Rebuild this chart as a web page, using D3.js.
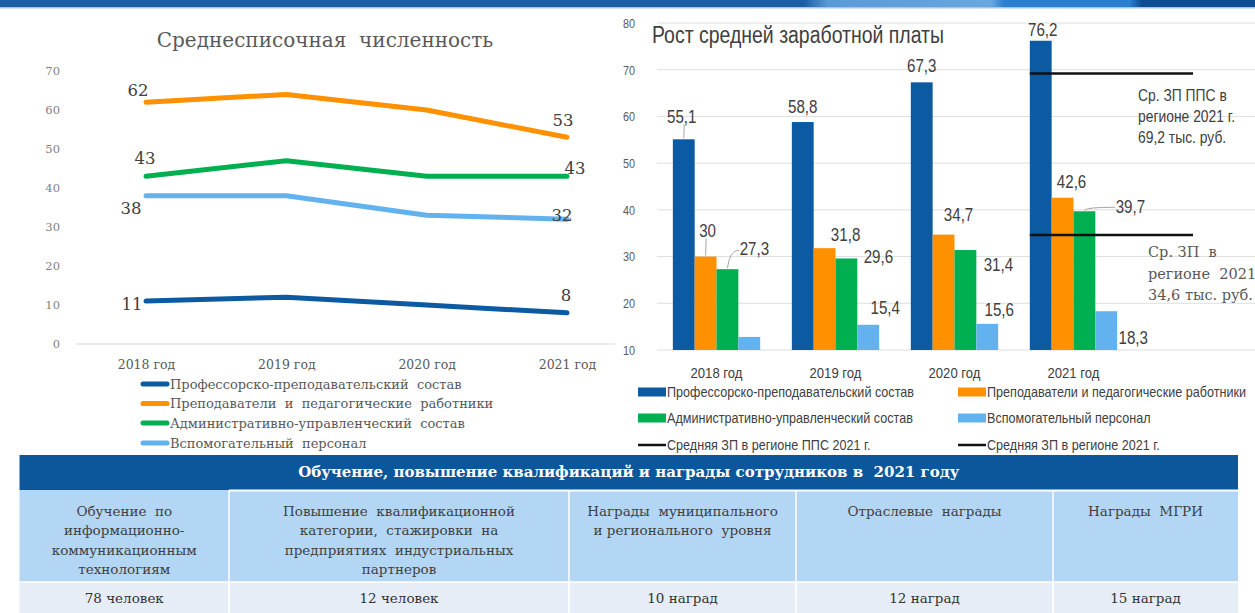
<!DOCTYPE html>
<html>
<head>
<meta charset="utf-8">
<script src="https://cdn.jsdelivr.net/npm/d3@7"></script>
<style>
  body { margin: 0; background: #fff; }
  svg { display: block; }
  text { white-space: pre; }
</style>
</head>
<body>
<div id="viz"></div>
<script>
// ---- data ----
const years = ["2018 год", "2019 год", "2020 год", "2021 год"];

// left chart: headcount
const staffTitle = "Среднесписочная  численность";
const staffNames = ["Профессорско-преподавательский  состав", "Преподаватели  и  педагогические  работники",
                    "Административно-управленческий  состав", "Вспомогательный  персонал"];
const staffPPS = [11, 12, 10, 8];
const staffTeachers = [62, 64, 60, 53];
const staffAdmin = [43, 47, 43, 43];
const staffSupport = [38, 38, 33, 32];
const staffTicks = [0, 10, 20, 30, 40, 50, 60, 70];

// right chart: salary growth, thousand rub.
const salaryTitle = "Рост средней заработной платы";
const salaryNames = ["Профессорско-преподавательский состав", "Преподаватели и педагогические работники",
                     "Административно-управленческий состав", "Вспомогательный персонал"];
const salaryPPS = [55.1, 58.8, 67.3, 76.2];
const salaryTeachers = [30, 31.8, 34.7, 42.6];
const salaryAdmin = [27.3, 29.6, 31.4, 39.7];
const salarySupport = [12.8, 15.4, 15.6, 18.3];
const salaryTicks = [10, 20, 30, 40, 50, 60, 70, 80];
const regionPPS = 69.2;
const regionAll = 34.6;
const regionNames = ["Средняя ЗП в регионе ППС 2021 г.", "Средняя ЗП в регионе 2021 г."];
const regionNotePPS = ["Ср. ЗП ППС в", "регионе 2021 г.", "69,2 тыс. руб."];
const regionNoteAll = ["Ср. ЗП  в", "регионе  2021 г.", "34,6 тыс. руб."];

// table
const tableTitle = "Обучение, повышение квалификаций и награды сотрудников в  2021 году";
const tableHeads = [
  ["Обучение  по", "информационно-", "коммуникационным", "технологиям"],
  ["Повышение  квалификационной", "категории,  стажировки  на", "предприятиях  индустриальных", "партнеров"],
  ["Награды  муниципального", "и регионального  уровня"],
  ["Отраслевые  награды"],
  ["Награды  МГРИ"]
];
const tableValues = ["78 человек", "12 человек", "10 наград", "12 наград", "15 наград"];

// ---- setup ----
const W = 1255, H = 613;
const serif = "'DejaVu Serif', serif";
const sans = "'Liberation Sans', Arial, sans-serif";
const seriesColors = ["#0b5aa2", "#ff9000", "#00b050", "#62b2ef"];

// no condensed font installed: squeeze glyphs horizontally instead
function squeeze(sel, k) {
  sel.each(function() {
    let w = this.getComputedTextLength();
    d3.select(this).attr("textLength", w * k).attr("lengthAdjust", "spacingAndGlyphs");
  });
}
function fitFirst(sel, target) {
  let k = target / sel.node().getComputedTextLength();
  squeeze(sel, k);
}

let svg = d3.select("#viz").append("svg")
    .attr("width", W)
    .attr("height", H);

// top stripe
let grad = svg.append("defs").append("linearGradient").attr("id", "stripe");
[[0, "#1a5ea6"], [0.64, "#1a5ea6"], [0.66, "#5a9ad8"], [0.79, "#6aa6de"], [0.8, "#2a7fd0"],
 [0.9, "#2a7fd0"], [0.91, "#0d4d92"], [1, "#0d4d92"]].forEach(s =>
  grad.append("stop").attr("offset", s[0]).attr("stop-color", s[1]));
svg.append("rect").attr("width", W).attr("height", 7).attr("fill", "url(#stripe)");
svg.append("rect").attr("y", 7).attr("width", W).attr("height", 1.5).attr("fill", "#9cc9ee");

// ================= left chart =================
let left = svg.append("g");
let xL = d3.scalePoint().domain(years).range([146, 567]);
let yL = d3.scaleLinear().domain([0, 70]).range([344, 71]);

left.append("text")
  .attr("x", 325).attr("y", 47)
  .attr("text-anchor", "middle")
  .attr("font-family", serif).attr("font-size", 20)
  .attr("fill", "#595959")
  .text(staffTitle);

left.append("g")
  .attr("transform", "translate(63,0)")
  .call(d3.axisLeft(yL).tickValues(staffTicks).tickSize(0).tickPadding(3))
  .call(g => g.select(".domain").remove())
  .selectAll("text")
    .attr("font-family", serif).attr("font-size", 11.5).attr("fill", "#7f7f7f");

left.append("line")
  .attr("x1", 76).attr("x2", 615)
  .attr("y1", yL(0)).attr("y2", yL(0))
  .attr("stroke", "#d9d9d9");

left.append("g")
  .attr("transform", "translate(0," + yL(0) + ")")
  .call(d3.axisBottom(xL).tickSize(0).tickPadding(16))
  .call(g => g.select(".domain").remove())
  .selectAll("text")
    .attr("font-family", serif).attr("font-size", 12.5).attr("fill", "#595959");

let staffData = [staffPPS, staffTeachers, staffAdmin, staffSupport];
// label offsets for first / last point of each line
let staffLabelPos = [
  [[-14, 3], [-1, -18]],
  [[-8, -12], [-4, -17]],
  [[-1, -18], [8, -8]],
  [[-15, 12], [-5, -4]]
];

let line = d3.line()
  .x((d, i) => xL(years[i]))
  .y(d => yL(d));

staffData.forEach((vals, s) => {
  left.append("path")
    .attr("d", line(vals))
    .attr("fill", "none")
    .attr("stroke", seriesColors[s])
    .attr("stroke-width", 5)
    .attr("stroke-linecap", "round")
    .attr("stroke-linejoin", "round");
});
staffData.forEach((vals, s) => {
  [0, vals.length - 1].forEach((i, k) => {
    let p = staffLabelPos[s][k];
    left.append("text")
      .attr("x", xL(years[i]) + p[0])
      .attr("y", yL(vals[i]) + p[1])
      .attr("dy", "0.35em")
      .attr("text-anchor", "middle")
      .attr("font-family", serif).attr("font-size", 16.5)
      .attr("fill", "#404040")
      .text(vals[i]);
  });
});

// legend
let legL = left.append("g").selectAll("g")
  .data(staffNames)
  .enter().append("g")
    .attr("transform", (d, i) => "translate(0," + [384, 403.5, 423, 443][i] + ")");
legL.append("line")
  .attr("x1", 143).attr("x2", 167)
  .attr("stroke", (d, i) => seriesColors[i])
  .attr("stroke-width", 5)
  .attr("stroke-linecap", "round");
legL.append("text")
  .attr("x", 170).attr("dy", "0.35em")
  .attr("font-family", serif).attr("font-size", 13)
  .attr("fill", "#595959")
  .text(d => d);

// ================= right chart =================
let right = svg.append("g");
let x0 = d3.scaleBand().domain(years).range([655, 1135]).paddingInner(0.266).paddingOuter(0.15);
let x1 = d3.scaleBand().domain(d3.range(4)).range([0, x0.bandwidth()]);
let yR = d3.scaleLinear().domain([10, 80]).range([350, 23]);

right.append("g").selectAll("line")
  .data(salaryTicks)
  .enter().append("line")
    .attr("x1", 657).attr("x2", W)
    .attr("y1", d => yR(d)).attr("y2", d => yR(d))
    .attr("stroke", "#dedede");

right.append("g")
  .attr("transform", "translate(638,0)")
  .call(d3.axisLeft(yR).tickValues(salaryTicks).tickSize(0).tickPadding(3))
  .call(g => g.select(".domain").remove())
  .selectAll("text")
    .attr("font-family", sans).attr("font-size", 13.5).attr("fill", "#595959")
    .call(squeeze, 0.8);

right.append("g")
  .attr("transform", "translate(0," + yR(10) + ")")
  .call(d3.axisBottom(x0).tickSize(0).tickPadding(17))
  .call(g => g.select(".domain").remove())
  .selectAll("text")
    .attr("font-family", sans).attr("font-size", 15).attr("fill", "#404040")
    .call(fitFirst, 52);

right.append("text")
  .attr("x", 652).attr("y", 43)
  .attr("font-family", sans).attr("font-size", 23)
  .attr("fill", "#404040")
  .text(salaryTitle)
  .call(fitFirst, 292);

let salaryData = [salaryPPS, salaryTeachers, salaryAdmin, salarySupport];
let bars = [];
salaryData.forEach((vals, s) => vals.forEach((v, i) => bars.push({s: s, year: years[i], i: i, value: v})));

right.append("g").selectAll("rect")
  .data(bars)
  .enter().append("rect")
    .attr("x", d => x0(d.year) + x1(d.s))
    .attr("y", d => yR(d.value))
    .attr("width", x1.bandwidth())
    .attr("height", d => yR(10) - yR(d.value))
    .attr("fill", d => seriesColors[d.s]);

// label offsets from bar centre / bar top; null = no label
let salaryLabelPos = [
  [[-2, -23], [0, -15], [0, -17], [2, -11]],
  [[2, -26], [21, -13], [15, -20], [9, -16]],
  [[27, -20], [32, -1.5], [33, 15], [46, -5]],
  [null, [17, -17], [12, -14], [27, 26]]
];
let fmt = v => String(v).replace(".", ",");
let cx = d => x0(d.year) + x1(d.s) + x1.bandwidth() / 2;

right.append("g").selectAll("text")
  .data(bars.filter(d => salaryLabelPos[d.s][d.i]))
  .enter().append("text")
    .attr("x", d => cx(d) + salaryLabelPos[d.s][d.i][0])
    .attr("y", d => yR(d.value) + salaryLabelPos[d.s][d.i][1])
    .attr("dy", "0.35em")
    .attr("text-anchor", "middle")
    .attr("font-family", sans).attr("font-size", 18)
    .attr("fill", "#404040")
    .text(d => fmt(d.value))
    .call(squeeze, 0.84);

// leader lines for labels that sit away from their bars
let leaders = [[0, 0], [1, 0], [2, 0], [2, 3]];
right.append("g").selectAll("path")
  .data(leaders.map(l => bars.find(b => b.s === l[0] && b.i === l[1])))
  .enter().append("path")
    .attr("d", d => {
      let p = salaryLabelPos[d.s][d.i];
      let bx = cx(d), by = yR(d.value);
      let lx = bx + p[0], ly = by + p[1];
      if (Math.abs(p[0]) < 6) return "M" + bx + "," + (by - 1) + "L" + (bx + 0.5) + "," + (ly + 8);
      return "M" + bx + "," + (by - 1) + "Q" + (bx + 2) + "," + (ly + 1) + " " + (lx - 15) + "," + (ly + 1);
    })
    .attr("fill", "none")
    .attr("stroke", "#a6a6a6")
    .attr("stroke-width", 1);

// regional average lines
[regionPPS, regionAll].forEach(v => {
  right.append("line")
    .attr("x1", x0("2021 год")).attr("x2", 1193)
    .attr("y1", yR(v)).attr("y2", yR(v))
    .attr("stroke", "#111").attr("stroke-width", 2.5);
});
right.append("g").selectAll("text")
  .data(regionNotePPS)
  .enter().append("text")
    .attr("x", 1138).attr("y", (d, i) => [95, 116.5, 137][i])
    .attr("dy", "0.35em")
    .attr("font-family", sans).attr("font-size", 16.5)
    .attr("fill", "#404040")
    .text(d => d)
    .call(squeeze, 0.84);
right.append("g").selectAll("text")
  .data(regionNoteAll)
  .enter().append("text")
    .attr("x", 1148).attr("y", (d, i) => [252, 274, 295][i])
    .attr("dy", "0.35em")
    .attr("font-family", serif).attr("font-size", 14.5)
    .attr("fill", "#595959")
    .text(d => d);

// legend
let legItems = salaryNames.map((n, i) => ({name: n, color: seriesColors[i], bar: true}))
  .concat(regionNames.map(n => ({name: n, color: "#111", bar: false})));
let legR = right.append("g").selectAll("g")
  .data(legItems)
  .enter().append("g")
    .attr("transform", (d, i) => "translate(" + (i % 2 ? 958 : 638) + "," + [392, 418, 445][Math.floor(i / 2)] + ")");
legR.filter(d => d.bar).append("rect")
  .attr("y", -4.5).attr("width", 28).attr("height", 9)
  .attr("fill", d => d.color);
legR.filter(d => !d.bar).append("line")
  .attr("x2", 28)
  .attr("stroke", d => d.color).attr("stroke-width", 2.5);
let legText = legR.append("text")
  .attr("x", 29).attr("dy", "0.35em")
  .attr("font-family", sans).attr("font-size", 15)
  .attr("fill", "#404040")
  .text(d => d.name);
legText.call(squeeze, 247 / legText.node().getComputedTextLength());

// ================= table =================
let colEdges = [19.5, 229, 569, 796, 1053, 1238];
let table = svg.append("g");
table.append("rect")
  .attr("x", colEdges[0]).attr("y", 455)
  .attr("width", colEdges[5] - colEdges[0]).attr("height", 35)
  .attr("fill", "#0c569b");
table.append("text")
  .attr("x", (colEdges[0] + colEdges[5]) / 2).attr("y", 472)
  .attr("dy", "0.35em").attr("text-anchor", "middle")
  .attr("font-family", serif).attr("font-size", 15).attr("font-weight", "bold")
  .attr("fill", "#fff")
  .text(tableTitle);

let cols = table.selectAll("g.col")
  .data(tableHeads.map((h, i) => ({head: h, value: tableValues[i], x: colEdges[i], w: colEdges[i + 1] - colEdges[i]})))
  .enter().append("g").attr("class", "col");
cols.append("rect")
  .attr("x", d => d.x).attr("y", 490).attr("width", d => d.w).attr("height", 92)
  .attr("fill", "#b3d6f4");
cols.append("rect")
  .attr("x", d => d.x).attr("y", 582).attr("width", d => d.w).attr("height", 31)
  .attr("fill", "#e7edf6");
cols.selectAll("text.head")
  .data(d => d.head.map((t, k) => ({t: t, k: k, cx: d.x + d.w / 2})))
  .enter().append("text")
    .attr("class", "head")
    .attr("x", d => d.cx).attr("y", d => 511 + d.k * 19.5)
    .attr("dy", "0.35em").attr("text-anchor", "middle")
    .attr("font-family", serif).attr("font-size", 13.5)
    .attr("fill", "#404040")
    .text(d => d.t);
cols.append("text")
  .attr("x", d => d.x + d.w / 2).attr("y", 598)
  .attr("dy", "0.35em").attr("text-anchor", "middle")
  .attr("font-family", serif).attr("font-size", 13.5)
  .attr("fill", "#333")
  .text(d => d.value);

// white cell borders
table.append("g").selectAll("line")
  .data(colEdges.slice(1, -1))
  .enter().append("line")
    .attr("x1", d => d).attr("x2", d => d)
    .attr("y1", 490).attr("y2", 613)
    .attr("stroke", "#fff").attr("stroke-width", 1.5);
table.append("line")
  .attr("x1", colEdges[1]).attr("x2", colEdges[5])
  .attr("y1", 490.5).attr("y2", 490.5)
  .attr("stroke", "#fff").attr("stroke-width", 2);
table.append("line")
  .attr("x1", colEdges[0]).attr("x2", colEdges[5])
  .attr("y1", 582).attr("y2", 582)
  .attr("stroke", "#fff").attr("stroke-width", 1.5);
</script>
</body>
</html>
